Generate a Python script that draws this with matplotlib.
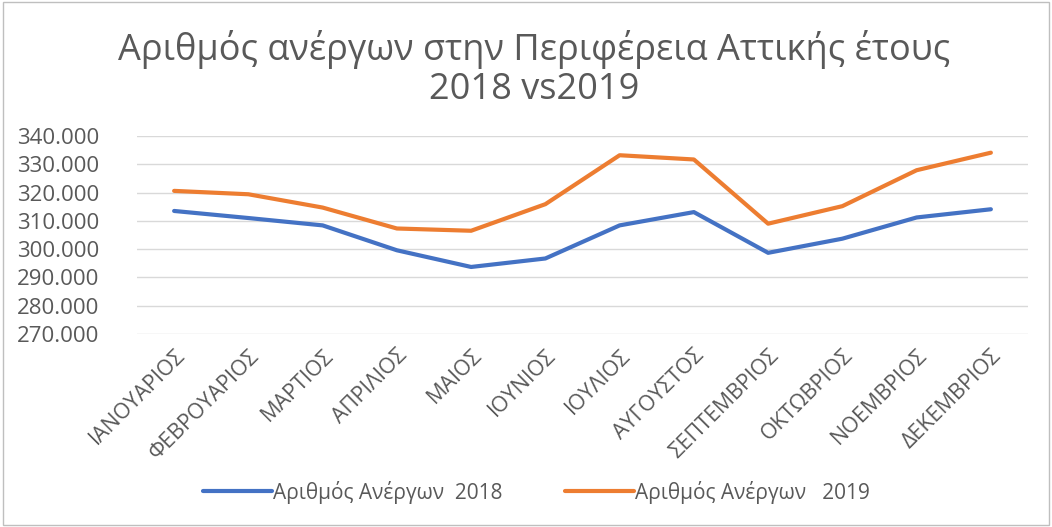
import matplotlib
matplotlib.use("Agg")
import matplotlib.pyplot as plt
from matplotlib.ticker import FuncFormatter, MultipleLocator
from matplotlib.patches import Rectangle

months = ["ΙΑΝΟΥΑΡΙΟΣ", "ΦΕΒΡΟΥΑΡΙΟΣ", "ΜΑΡΤΙΟΣ", "ΑΠΡΙΛΙΟΣ", "ΜΑΙΟΣ", "ΙΟΥΝΙΟΣ",
          "ΙΟΥΛΙΟΣ", "ΑΥΓΟΥΣΤΟΣ", "ΣΕΠΤΕΜΒΡΙΟΣ", "ΟΚΤΩΒΡΙΟΣ", "ΝΟΕΜΒΡΙΟΣ", "ΔΕΚΕΜΒΡΙΟΣ"]
unemployed_2018 = [313500, 311000, 308400, 299600, 293700, 296700,
                   308400, 313100, 298700, 303700, 311200, 314100]
unemployed_2019 = [320600, 319400, 314700, 307300, 306500, 315900,
                   333200, 331700, 309000, 315200, 327900, 334100]
label_2018 = "Αριθμός Ανέργων  2018"
label_2019 = "Αριθμός Ανέργων   2019"
title = "Αριθμός ανέργων στην Περιφέρεια Αττικής έτους\n2018 vs2019"

plt.rcParams['font.family'] = ['Open Sans', 'DejaVu Sans']
gray = "#595959"

fig = plt.figure(figsize=(10.52, 5.27), dpi=100)
ax = fig.add_axes([137/1052, 1 - 334/527, (1028-137)/1052, (334-136)/527])

x = list(range(len(months)))
ax.plot(x, unemployed_2018, color="#4472C4", lw=3, label=label_2018, solid_capstyle='round')
ax.plot(x, unemployed_2019, color="#ED7D31", lw=3, label=label_2019, solid_capstyle='round')

ax.set_xlim(-0.5, len(months) - 0.5)
ax.set_ylim(270000, 340000)
ax.yaxis.set_major_locator(MultipleLocator(10000))
ax.yaxis.set_major_formatter(FuncFormatter(lambda v, p: f"{int(v):,}".replace(",", ".")))
ax.grid(axis='y', color="#D9D9D9", lw=1)
ax.set_axisbelow(True)
for s in ax.spines.values():
    s.set_visible(False)
ax.tick_params(axis='both', length=0, colors=gray)
ax.tick_params(axis='y', pad=27, labelsize=16)
ax.set_xticks(x)
ax.set_xticklabels(months, rotation=45, ha='right', rotation_mode='anchor', fontsize=15.5, color=gray)
ax.tick_params(axis='x', pad=8)

fig.text(0.508, 1 - 69/527, title, ha='center', va='center', fontsize=26, color=gray, linespacing=1.1)

fig.legend(loc='center', bbox_to_anchor=(0.51, 1 - 492/527), ncol=2, frameon=False,
           fontsize=15, labelcolor=gray, handlelength=3.3, handletextpad=0.05, columnspacing=3.0)

fig.patches.append(Rectangle((0.003, 0.003), 0.994, 0.994, transform=fig.transFigure,
                             fill=False, edgecolor="#BFBFBF", lw=1))

fig.savefig("out.png", dpi=100, facecolor="white")
